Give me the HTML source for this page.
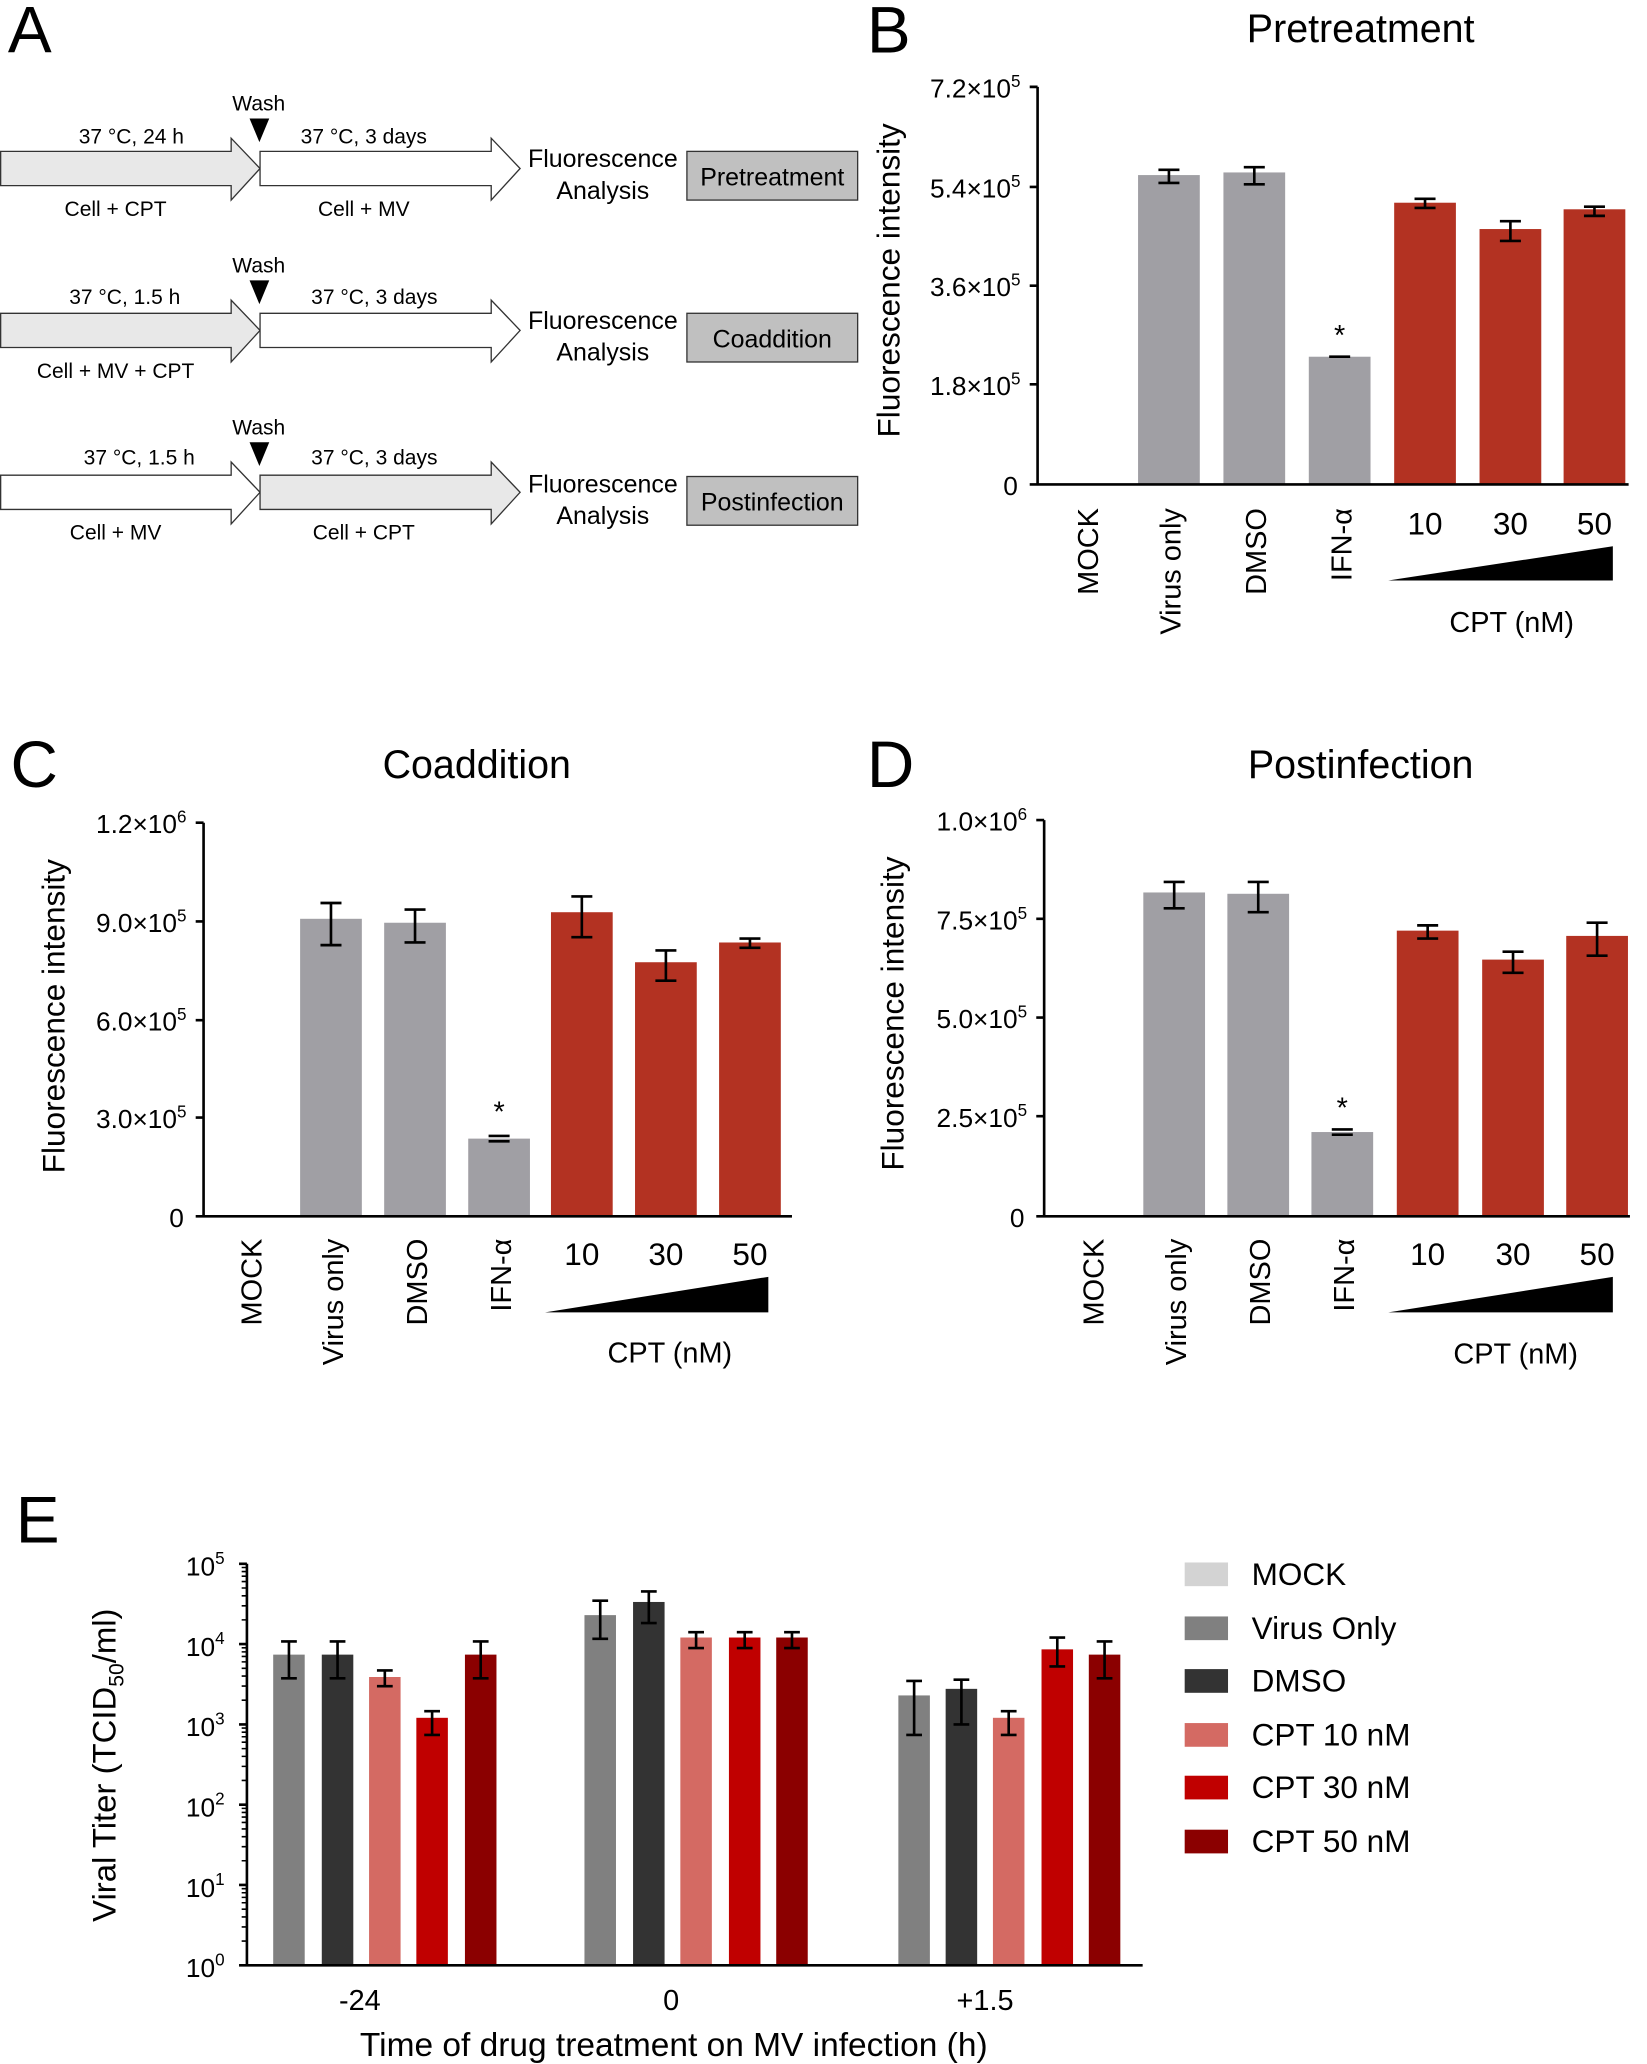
<!DOCTYPE html>
<html><head><meta charset="utf-8"><style>html,body{margin:0;padding:0;background:#fff}svg{display:block}text{font-family:"Liberation Sans",sans-serif;fill:#000}</style></head><body>
<svg width="1647" height="2064" viewBox="0 0 1254 1568" preserveAspectRatio="none" xmlns="http://www.w3.org/2000/svg">
<!-- Panel A -->
<text x="6" y="40" font-size="50">A</text>
<g font-size="16" text-anchor="middle">
<path d="M0.5,115 H176 V105 L198,128 L176,152 V141 H0.5 Z" fill="#e8e8e8" stroke="#333" stroke-width="1"/>
<path d="M198,115 H374 V105 L396,128 L374,152 V141 H198 Z" fill="#fff" stroke="#333" stroke-width="1"/>
<text x="100" y="109">37 °C, 24 h</text><text x="88" y="164">Cell + CPT</text>
<text x="277" y="109">37 °C, 3 days</text><text x="277" y="164">Cell + MV</text>
<text x="197" y="84">Wash</text><path d="M190,90 H205 L197.5,108 Z" fill="#000"/>
<text x="459" y="127" font-size="19">Fluorescence</text><text x="459" y="151" font-size="19">Analysis</text>
<rect x="523" y="115" width="130" height="37" fill="#c0c0c0" stroke="#333"/><text x="588" y="141" font-size="19">Pretreatment</text>
<path d="M0.5,238 H176 V228 L198,251 L176,275 V264 H0.5 Z" fill="#e8e8e8" stroke="#333" stroke-width="1"/>
<path d="M198,238 H374 V228 L396,251 L374,275 V264 H198 Z" fill="#fff" stroke="#333" stroke-width="1"/>
<text x="95" y="231">37 °C, 1.5 h</text><text x="88" y="287">Cell + MV + CPT</text>
<text x="285" y="231">37 °C, 3 days</text>
<text x="197" y="207">Wash</text><path d="M190,213 H205 L197.5,231 Z" fill="#000"/>
<text x="459" y="250" font-size="19">Fluorescence</text><text x="459" y="274" font-size="19">Analysis</text>
<rect x="523" y="238" width="130" height="37" fill="#c0c0c0" stroke="#333"/><text x="588" y="264" font-size="19">Coaddition</text>
<path d="M0.5,361 H176 V351 L198,374 L176,398 V387 H0.5 Z" fill="#fff" stroke="#333" stroke-width="1"/>
<path d="M198,361 H374 V351 L396,374 L374,398 V387 H198 Z" fill="#e8e8e8" stroke="#333" stroke-width="1"/>
<text x="106" y="353">37 °C, 1.5 h</text><text x="88" y="410">Cell + MV</text>
<text x="285" y="353">37 °C, 3 days</text><text x="277" y="410">Cell + CPT</text>
<text x="197" y="330">Wash</text><path d="M190,336 H205 L197.5,354 Z" fill="#000"/>
<text x="459" y="374" font-size="19">Fluorescence</text><text x="459" y="398" font-size="19">Analysis</text>
<rect x="523" y="362" width="130" height="37" fill="#c0c0c0" stroke="#333"/><text x="588" y="388" font-size="19">Postinfection</text>
</g>

<!-- Panel B -->
<text x="660" y="40" font-size="50">B</text>
<text x="1036" y="32" font-size="30" text-anchor="middle">Pretreatment</text>
<g fill="#a09fa4"><rect x="866.5" y="133" width="47" height="235"/><rect x="931.5" y="131" width="47" height="237"/><rect x="996.5" y="271" width="47" height="97"/></g>
<g fill="#b33222"><rect x="1061.5" y="154" width="47" height="214"/><rect x="1126.5" y="174" width="47" height="194"/><rect x="1190.5" y="159" width="47" height="209"/></g>
<g stroke="#000" stroke-width="2" fill="none">
<path d="M790,66 V368 M784,66 H790 M784,142 H790 M784,217 H790 M784,292 H790 M784,368 H1240"/>
<path d="M890,129 V139 M882,129 H898 M882,139 H898"/>
<path d="M955,127 V140 M947,127 H963 M947,140 H963"/>
<path d="M1012,271 H1028"/>
<path d="M1085,151 V158 M1077,151 H1093 M1077,158 H1093"/>
<path d="M1150,168 V183 M1142,168 H1158 M1142,183 H1158"/>
<path d="M1214,157 V164 M1206,157 H1222 M1206,164 H1222"/>
</g>
<text x="1020" y="262" font-size="22" text-anchor="middle">*</text>
<g font-size="20" text-anchor="end">
<text x="777" y="74">7.2×10<tspan font-size="13" dy="-8">5</tspan></text>
<text x="777" y="150">5.4×10<tspan font-size="13" dy="-8">5</tspan></text>
<text x="777" y="225">3.6×10<tspan font-size="13" dy="-8">5</tspan></text>
<text x="777" y="300">1.8×10<tspan font-size="13" dy="-8">5</tspan></text>
<text x="775" y="376">0</text>
</g>
<text transform="translate(685,213) rotate(-90)" font-size="24" text-anchor="middle">Fluorescence intensity</text>
<g font-size="22" text-anchor="end">
<text transform="translate(836,386) rotate(-90)">MOCK</text>
<text transform="translate(899,386) rotate(-90)">Virus only</text>
<text transform="translate(964,386) rotate(-90)">DMSO</text>
<text transform="translate(1029,386) rotate(-90)">IFN-α</text>
</g>
<g font-size="24" text-anchor="middle"><text x="1085" y="406">10</text><text x="1150" y="406">30</text><text x="1214" y="406">50</text></g>
<path d="M1057,441 L1228,415 V441 Z" fill="#000"/>
<text x="1151" y="480" font-size="22" text-anchor="middle">CPT (nM)</text>

<!-- Panel C -->
<text x="8" y="598" font-size="50">C</text>
<text x="363" y="591" font-size="30" text-anchor="middle">Coaddition</text>
<g fill="#a09fa4"><rect x="228.5" y="698" width="47" height="226"/><rect x="292.5" y="701" width="47" height="223"/><rect x="356.5" y="865" width="47" height="59"/></g>
<g fill="#b33222"><rect x="419.5" y="693" width="47" height="231"/><rect x="483.5" y="731" width="47" height="193"/><rect x="547.5" y="716" width="47" height="208"/></g>
<g stroke="#000" stroke-width="2" fill="none">
<path d="M155,625 V924 M149,625 H155 M149,700 H155 M149,775 H155 M149,849 H155 M149,924 H603"/>
<path d="M252,686 V718 M244,686 H260 M244,718 H260"/>
<path d="M316,691 V716 M308,691 H324 M308,716 H324"/>
<path d="M372,863 H388 M372,867 H388"/>
<path d="M443,681 V712 M435,681 H451 M435,712 H451"/>
<path d="M507,722 V745 M499,722 H515 M499,745 H515"/>
<path d="M571,713 V720 M563,713 H579 M563,720 H579"/>
</g>
<text x="380" y="852" font-size="22" text-anchor="middle">*</text>
<g font-size="20" text-anchor="end">
<text x="142" y="633">1.2×10<tspan font-size="13" dy="-8">6</tspan></text>
<text x="142" y="708">9.0×10<tspan font-size="13" dy="-8">5</tspan></text>
<text x="142" y="783">6.0×10<tspan font-size="13" dy="-8">5</tspan></text>
<text x="142" y="857">3.0×10<tspan font-size="13" dy="-8">5</tspan></text>
<text x="140" y="932">0</text>
</g>
<text transform="translate(49,772) rotate(-90)" font-size="24" text-anchor="middle">Fluorescence intensity</text>
<g font-size="22" text-anchor="end">
<text transform="translate(199,941) rotate(-90)">MOCK</text>
<text transform="translate(261,941) rotate(-90)">Virus only</text>
<text transform="translate(325,941) rotate(-90)">DMSO</text>
<text transform="translate(389,941) rotate(-90)">IFN-α</text>
</g>
<g font-size="24" text-anchor="middle"><text x="443" y="961">10</text><text x="507" y="961">30</text><text x="571" y="961">50</text></g>
<path d="M415,997 L585,970 V997 Z" fill="#000"/>
<text x="510" y="1035" font-size="22" text-anchor="middle">CPT (nM)</text>

<!-- Panel D -->
<text x="660" y="598" font-size="50">D</text>
<text x="1036" y="591" font-size="30" text-anchor="middle">Postinfection</text>
<g fill="#a09fa4"><rect x="870.5" y="678" width="47" height="246"/><rect x="934.5" y="679" width="47" height="245"/><rect x="998.5" y="860" width="47" height="64"/></g>
<g fill="#b33222"><rect x="1063.5" y="707" width="47" height="217"/><rect x="1128.5" y="729" width="47" height="195"/><rect x="1192.5" y="711" width="47" height="213"/></g>
<g stroke="#000" stroke-width="2" fill="none">
<path d="M795,623 V924 M789,623 H795 M789,698 H795 M789,773 H795 M789,848 H795 M789,924 H1241"/>
<path d="M894,670 V690 M886,670 H902 M886,690 H902"/>
<path d="M958,670 V693 M950,670 H966 M950,693 H966"/>
<path d="M1014,858 H1030 M1014,862 H1030"/>
<path d="M1087,703 V713 M1079,703 H1095 M1079,713 H1095"/>
<path d="M1152,723 V739 M1144,723 H1160 M1144,739 H1160"/>
<path d="M1216,701 V726 M1208,701 H1224 M1208,726 H1224"/>
</g>
<text x="1022" y="849" font-size="22" text-anchor="middle">*</text>
<g font-size="20" text-anchor="end">
<text x="782" y="631">1.0×10<tspan font-size="13" dy="-8">6</tspan></text>
<text x="782" y="706">7.5×10<tspan font-size="13" dy="-8">5</tspan></text>
<text x="782" y="781">5.0×10<tspan font-size="13" dy="-8">5</tspan></text>
<text x="782" y="856">2.5×10<tspan font-size="13" dy="-8">5</tspan></text>
<text x="780" y="932">0</text>
</g>
<text transform="translate(688,770) rotate(-90)" font-size="24" text-anchor="middle">Fluorescence intensity</text>
<g font-size="22" text-anchor="end">
<text transform="translate(840,941) rotate(-90)">MOCK</text>
<text transform="translate(903,941) rotate(-90)">Virus only</text>
<text transform="translate(967,941) rotate(-90)">DMSO</text>
<text transform="translate(1031,941) rotate(-90)">IFN-α</text>
</g>
<g font-size="24" text-anchor="middle"><text x="1087" y="961">10</text><text x="1152" y="961">30</text><text x="1216" y="961">50</text></g>
<path d="M1057,997 L1228,970 V997 Z" fill="#000"/>
<text x="1154" y="1036" font-size="22" text-anchor="middle">CPT (nM)</text>

<!-- Panel E -->
<text x="12" y="1172" font-size="50">E</text>
<g>
<rect x="208" y="1257" width="24" height="236" fill="#808080"/>
<rect x="245" y="1257" width="24" height="236" fill="#333333"/>
<rect x="281" y="1274" width="24" height="219" fill="#d46a63"/>
<rect x="317" y="1305" width="24" height="188" fill="#c00000"/>
<rect x="354" y="1257" width="24" height="236" fill="#8b0000"/>
<rect x="445" y="1227" width="24" height="266" fill="#808080"/>
<rect x="482" y="1217" width="24" height="276" fill="#333333"/>
<rect x="518" y="1244" width="24" height="249" fill="#d46a63"/>
<rect x="555" y="1244" width="24" height="249" fill="#c00000"/>
<rect x="591" y="1244" width="24" height="249" fill="#8b0000"/>
<rect x="684" y="1288" width="24" height="205" fill="#808080"/>
<rect x="720" y="1283" width="24" height="210" fill="#333333"/>
<rect x="756" y="1305" width="24" height="188" fill="#d46a63"/>
<rect x="793" y="1253" width="24" height="240" fill="#c00000"/>
<rect x="829" y="1257" width="24" height="236" fill="#8b0000"/>
</g>
<g stroke="#000" stroke-width="2" fill="none">
<path d="M220,1247 V1275 M214,1247 H226 M214,1275 H226"/>
<path d="M257,1247 V1275 M251,1247 H263 M251,1275 H263"/>
<path d="M293,1269 V1281 M287,1269 H299 M287,1281 H299"/>
<path d="M329,1300 V1318 M323,1300 H335 M323,1318 H335"/>
<path d="M366,1247 V1275 M360,1247 H372 M360,1275 H372"/>
<path d="M457,1216 V1245 M451,1216 H463 M451,1245 H463"/>
<path d="M494,1209 V1233 M488,1209 H500 M488,1233 H500"/>
<path d="M530,1240 V1252 M524,1240 H536 M524,1252 H536"/>
<path d="M567,1240 V1252 M561,1240 H573 M561,1252 H573"/>
<path d="M603,1240 V1252 M597,1240 H609 M597,1252 H609"/>
<path d="M696,1277 V1318 M690,1277 H702 M690,1318 H702"/>
<path d="M732,1276 V1310 M726,1276 H738 M726,1310 H738"/>
<path d="M768,1300 V1318 M762,1300 H774 M762,1318 H774"/>
<path d="M805,1244 V1266 M799,1244 H811 M799,1266 H811"/>
<path d="M841,1247 V1275 M835,1247 H847 M835,1275 H847"/>
<path d="M188,1188 V1493 M182,1493 H870"/>
<path d="M182,1188 H188 M182,1249 H188 M182,1310 H188 M182,1371 H188 M182,1432 H188"/>
</g>
<g stroke="#000" stroke-width="1.2">
<path d="M184,1474.6H188M184,1463.9H188M184,1456.3H188M184,1450.4H188M184,1445.5H188M184,1441.4H188M184,1437.9H188M184,1434.8H188"/>
<path d="M184,1413.6H188M184,1402.9H188M184,1395.3H188M184,1389.4H188M184,1384.5H188M184,1380.4H188M184,1376.9H188M184,1373.8H188"/>
<path d="M184,1352.6H188M184,1341.9H188M184,1334.3H188M184,1328.4H188M184,1323.5H188M184,1319.4H188M184,1315.9H188M184,1312.8H188"/>
<path d="M184,1291.6H188M184,1280.9H188M184,1273.3H188M184,1267.4H188M184,1262.5H188M184,1258.4H188M184,1254.9H188M184,1251.8H188"/>
<path d="M184,1230.6H188M184,1219.9H188M184,1212.3H188M184,1206.4H188M184,1201.5H188M184,1197.4H188M184,1193.9H188M184,1190.8H188"/>
</g>
<g font-size="20" text-anchor="end">
<text x="171" y="1197">10<tspan font-size="13" dy="-9">5</tspan></text>
<text x="171" y="1258">10<tspan font-size="13" dy="-9">4</tspan></text>
<text x="171" y="1319">10<tspan font-size="13" dy="-9">3</tspan></text>
<text x="171" y="1380">10<tspan font-size="13" dy="-9">2</tspan></text>
<text x="171" y="1441">10<tspan font-size="13" dy="-9">1</tspan></text>
<text x="171" y="1502">10<tspan font-size="13" dy="-9">0</tspan></text>
</g>
<text transform="translate(88,1341) rotate(-90)" font-size="25" text-anchor="middle">Viral Titer (TCID<tspan font-size="16" dy="6">50</tspan><tspan dy="-6">/ml)</tspan></text>
<g font-size="22" text-anchor="middle"><text x="274" y="1527">-24</text><text x="511" y="1527">0</text><text x="750" y="1527">+1.5</text></g>
<text x="513" y="1562" font-size="25.5" text-anchor="middle">Time of drug treatment on MV infection (h)</text>
<g>
<rect x="902" y="1187" width="33" height="18" fill="#d3d3d3"/>
<rect x="902" y="1228" width="33" height="18" fill="#808080"/>
<rect x="902" y="1268" width="33" height="18" fill="#333333"/>
<rect x="902" y="1309" width="33" height="18" fill="#d46a63"/>
<rect x="902" y="1349" width="33" height="18" fill="#c00000"/>
<rect x="902" y="1390" width="33" height="18" fill="#8b0000"/>
</g>
<g font-size="24">
<text x="953" y="1204">MOCK</text><text x="953" y="1245">Virus Only</text><text x="953" y="1285">DMSO</text>
<text x="953" y="1326">CPT 10 nM</text><text x="953" y="1366">CPT 30 nM</text><text x="953" y="1407">CPT 50 nM</text>
</g>
</svg>
</body></html>
